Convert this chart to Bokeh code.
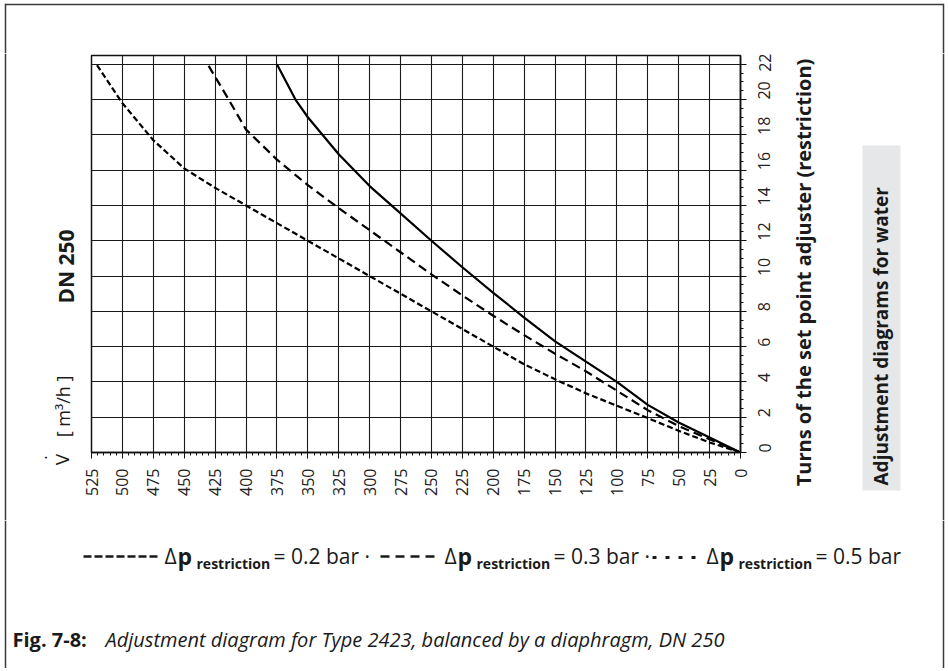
import math
from bokeh.plotting import figure
from bokeh.layouts import column, row
from bokeh.models import Range1d, FixedTicker
from bokeh.core.properties import value
from bokeh.embed import file_html
from bokeh.resources import INLINE

# ---- data (flow in m3/h, turns of set point adjuster) ----
flow_02 = [0, 25, 50, 75, 100, 125, 150, 175, 200, 225, 250, 275, 300, 325, 350, 360, 375]
turns_02 = [0, 0.85, 1.7, 2.7, 4.0, 5.15, 6.3, 7.65, 9.05, 10.5, 12.0, 13.55, 15.1, 16.9, 19.0, 20.0, 22.0]

flow_03 = [0, 25, 50, 75, 100, 125, 150, 175, 200, 225, 250, 275, 300, 325, 350, 375, 400, 414, 431]
turns_03 = [0, 0.75, 1.5, 2.4, 3.5, 4.6, 5.6, 6.65, 7.75, 8.9, 10.1, 11.35, 12.6, 13.85, 15.15, 16.6, 18.3, 20.0, 22.0]

flow_05 = [0, 25, 50, 75, 100, 125, 150, 175, 200, 225, 250, 275, 300, 325, 350, 375, 400, 425, 450, 475, 500, 521]
turns_05 = [0, 0.57, 1.23, 1.95, 2.65, 3.35, 4.15, 5.0, 6.0, 7.0, 8.0, 9.0, 10.0, 11.0, 12.0, 13.0, 14.0, 15.0, 16.1, 17.7, 19.8, 22.0]

x_ticks = list(range(0, 526, 25))
x_minor = list(range(0, 526, 5))
y_ticks = list(range(0, 23, 2))
y_minor = [i * 0.5 for i in range(0, 45)]

legend_labels = ["= 0.2 bar ·", "= 0.3 bar ·", "= 0.5 bar"]

FONT = "Open Sans"
INK = "#1a1a1a"
BORDER = "#3a3a3a"

# ---- page geometry (pixels) ----
PW = 946
TOP_H = 53
ROW_H = 467
BOT_H = 148
L_W = 80
R_X = 785
FL, FR, FT, FB = 91, 740, 55, 452  # chart frame edges on the page
BX0, BX1, BY0 = 5, 943, 4          # outer border
TXT_SHIFT = 8                      # correction for alphabetic baseline placement

# ---- main chart ----
M_W = R_X - L_W
p = figure(width=M_W, height=ROW_H, output_backend="svg", toolbar_location=None,
           x_range=Range1d(525, 0), y_range=Range1d(0, 22.5),
           y_axis_location="right", frame_align=False,
           min_border_left=FL - L_W, min_border_right=R_X - FR,
           min_border_top=FT - TOP_H, min_border_bottom=TOP_H + ROW_H - FB)
p.background_fill_color = "white"
p.border_fill_color = "white"
p.outline_line_color = "#111111"
p.outline_line_width = 1.5

for ax, tk, mn in ((p.xaxis[0], x_ticks, x_minor), (p.yaxis[0], y_ticks, y_minor)):
    ax.ticker = FixedTicker(ticks=tk, minor_ticks=mn)
    ax.axis_line_color = "#111111"
    ax.axis_line_width = 1.5
    ax.major_tick_line_color = "#111111"
    ax.minor_tick_line_color = "#111111"
    ax.major_tick_in = 0
    ax.minor_tick_in = 0
    ax.major_tick_out = 6
    ax.minor_tick_out = 3
    ax.major_label_text_font = FONT
    ax.major_label_text_font_size = "16px"
    ax.major_label_text_color = "#222222"
    ax.major_label_orientation = math.pi / 2
p.xaxis.major_label_standoff = 10
p.yaxis.major_label_standoff = 18

p.xgrid.ticker = FixedTicker(ticks=x_ticks)
p.ygrid.ticker = FixedTicker(ticks=y_ticks)
for g in (p.xgrid[0], p.ygrid[0]):
    g.grid_line_color = "#1a1a1a"
    g.grid_line_width = 1.1

p.line(flow_02, turns_02, line_color="#000000", line_width=2.2, line_join="round")
p.line(flow_03, turns_03, line_color="#000000", line_width=2.2, line_dash="9 5", line_join="round")
p.line(flow_05, turns_05, line_color="#000000", line_width=2.2, line_dash="6 3", line_join="round")


# ---- auxiliary text panels (pixel coordinates, y measured from panel top) ----
def aux(w, h):
    f = figure(width=w, height=h, output_backend="svg", toolbar_location=None,
               x_range=Range1d(0, w), y_range=Range1d(0, h),
               x_axis_type=None, y_axis_type=None, min_border=0, frame_align=False)
    f.outline_line_color = None
    f.background_fill_color = "white"
    f.border_fill_color = "white"
    f.grid.visible = False
    f._h = h
    return f


def txt(f, text, x, y, size, style="normal", angle=0.0, align="left", baseline="alphabetic"):
    if baseline == "alphabetic":
        y -= TXT_SHIFT
    f.text(x=[x], y=[f._h - y], text=[text], angle=angle, text_align=align,
           text_baseline=baseline, text_font=value(FONT), text_font_size=f"{size}px",
           text_font_style=style, text_color=INK)


def seg(f, x0, y0, x1, y1, **kw):
    f.line(x=[x0, x1], y=[f._h - y0, f._h - y1], **kw)


def vbar_border(f, x, y0, y1):
    # thin filled strip used as a vertical border line
    f.quad(left=[x - 0.75], right=[x + 0.75], top=[f._h - y0], bottom=[f._h - y1],
           fill_color=BORDER, line_color=None)


V = math.pi / 2

# top strip
T = aux(PW, TOP_H)
seg(T, BX0, BY0, BX1, BY0, line_color=BORDER, line_width=1.5)
vbar_border(T, BX0, BY0 - 0.75, TOP_H)
vbar_border(T, BX1, BY0 - 0.75, TOP_H)

# left panel
Lp = aux(L_W, ROW_H)
vbar_border(Lp, BX0, 0, ROW_H)
txt(Lp, "DN 250", 65, 266 - TOP_H, 21, "bold", V, "center", "middle")
txt(Lp, "[ m³/h ]", 62, 406 - TOP_H, 18, "normal", V, "center", "middle")
txt(Lp, "V", 61, 459 - TOP_H, 19, "normal", V, "center", "middle")
txt(Lp, "•", 45, 457 - TOP_H, 9, "normal", V, "center", "middle")

# right panel
R_W = PW - R_X
Rp = aux(R_W, ROW_H)
vbar_border(Rp, BX1 - R_X, 0, ROW_H)
Rp.quad(left=[862 - R_X], right=[900 - R_X], top=[ROW_H - (145 - TOP_H)],
        bottom=[ROW_H - (490 - TOP_H)], fill_color="#e6e7e8", line_color=None)
txt(Rp, "Turns of the set point adjuster (restriction)", 803 - R_X, 272 - TOP_H, 20, "bold",
    V, "center", "middle")
txt(Rp, "Adjustment diagrams for water", 880 - R_X, 485 - TOP_H, 19, "bold", V, "left", "middle")

# bottom panel: legend and caption
B0 = TOP_H + ROW_H
Bp = aux(PW, BOT_H)
vbar_border(Bp, BX0, 0, BOT_H)
vbar_border(Bp, BX1, 0, BOT_H)
LY = 556 - B0
BL = 563 - B0
seg(Bp, 83, LY, 157, LY, line_color=INK, line_width=2.6, line_dash="8 3")
seg(Bp, 380, LY, 436, LY, line_color=INK, line_width=2.6, line_dash="9 6")
seg(Bp, 652, LY + 1, 700, LY + 1, line_color=INK, line_width=3.2, line_dash="4 9")
for dx, rest in zip((164, 444, 706), legend_labels):
    txt(Bp, "Δ", dx, BL, 21)
    txt(Bp, "p", dx + 13, BL, 23, "bold")
    txt(Bp, "restriction", dx + 32, BL + 8, 14, "bold")
    txt(Bp, rest, dx + 109, BL, 21)

txt(Bp, "Fig. 7-8:", 12, 647 - B0, 20, "bold")
txt(Bp, "Adjustment diagram for Type 2423, balanced by a diaphragm, DN 250", 105, 647 - B0, 20,
    "italic")

layout = column(T, row(Lp, p, Rp), Bp)
open("out.html", "w").write(file_html(layout, INLINE))
